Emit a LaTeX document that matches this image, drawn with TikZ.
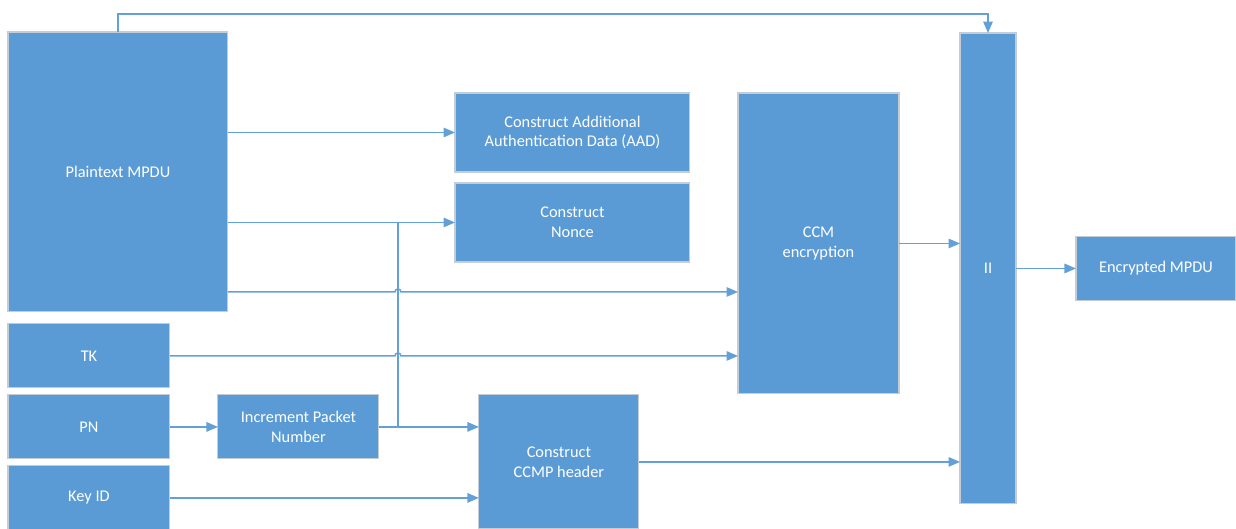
\documentclass[tikz,border=0pt]{standalone}
\usepackage{fontspec}
\setmainfont{Carlito}
\usetikzlibrary{arrows.meta,positioning,calc}
\definecolor{bxFill}{RGB}{91,155,213}
\definecolor{bxEdge}{RGB}{196,204,214}
\definecolor{lnBlue}{RGB}{100,160,216}

\begin{document}
\begin{tikzpicture}[
					x=0.02cm,y=-0.02cm,
					>={Triangle[length=2.3mm,width=1.9mm]},
					blk/.style={
						draw=bxEdge,
						line width=0.6pt,
						fill=bxFill,
						text=white,
						inner sep=0pt,
						outer sep=0pt,
						align=center,
						font=\fontsize{9.3}{11.3}\selectfont
					},
					wire/.style={draw=lnBlue,line width=0.85pt}
					]
					\useasboundingbox (0,0) rectangle (1236,528);
					% inputs on the left
					\node[blk,minimum width=4.4cm,minimum height=5.6cm,anchor=north west](plain) at (8,32){Plaintext MPDU};
					\node[blk,minimum width=3.24cm,minimum height=1.28cm,below=0.24cm of plain.south west,anchor=north west](tk){TK};
					\node[blk,minimum width=3.24cm,minimum height=1.28cm,below=0.14cm of tk](pn){PN};
					\node[blk,minimum width=3.24cm,minimum height=1.28cm,below=0.14cm of pn](key){Key ID};
					\node[blk,minimum width=3.22cm,minimum height=1.28cm,right=0.96cm of pn](inc){Increment Packet\\Number};
					% processing blocks
					\node[blk,minimum width=4.7cm,minimum height=1.58cm,anchor=north west](aad) at (455,93){Construct Additional\\Authentication Data (AAD)};
					\node[blk,minimum width=4.7cm,minimum height=1.58cm,below=0.22cm of aad](nonce){Construct\\Nonce};
					\node[blk,minimum width=3.22cm,minimum height=6.02cm,anchor=north west](ccm) at (738,93){CCM\\encryption};
					\node[blk,minimum width=3.2cm,minimum height=2.68cm,right=2cm of inc.north east,anchor=north west](hdr){Construct\\CCMP header};
					\node[blk,minimum width=1.12cm,minimum height=9.42cm,anchor=north west](ii) at (960,33){II};
					\node[blk,minimum width=3.2cm,minimum height=1.28cm,right=1.2cm of ii](enc){Encrypted MPDU};
					
					\coordinate (bus) at ($(inc.east)+(0.38cm,0)$);
					\coordinate (p3) at ([yshift=0.4cm]plain.south east);
					
					\draw[wire,->] (plain.north) -- ([yshift=0.36cm]plain.north) -| (ii.north);
					\draw[wire,->] (plain.east |- aad.west) -- (aad.west);
					\draw[wire,->] (plain.east |- nonce.west) -- (nonce.west);
					\draw[wire,->] (p3) -- ([xshift=-0.06cm]p3 -| bus) arc[start angle=180,end angle=0,radius=0.06cm] -- (p3 -| ccm.west);
					\draw[wire,->] (tk.east) -- ([xshift=-0.06cm]tk.east -| bus) arc[start angle=180,end angle=0,radius=0.06cm] -- (tk.east -| ccm.west);
					\draw[wire,->] (pn.east) -- (inc.west);
					\draw[wire] (inc.east) -- (bus) -- (bus |- nonce.west);
					\draw[wire,->] (bus) -- (bus -| hdr.west);
					\draw[wire,->] (key.east) -- (key.east -| hdr.west);
					\draw[wire,->] (ccm.east) -- (ccm.east -| ii.west);
					\draw[wire,->] (hdr.east) -- (hdr.east -| ii.west);
					\draw[wire,->] (ii.east) -- (ii.east -| enc.west);
					
				\end{tikzpicture}
\end{document}
